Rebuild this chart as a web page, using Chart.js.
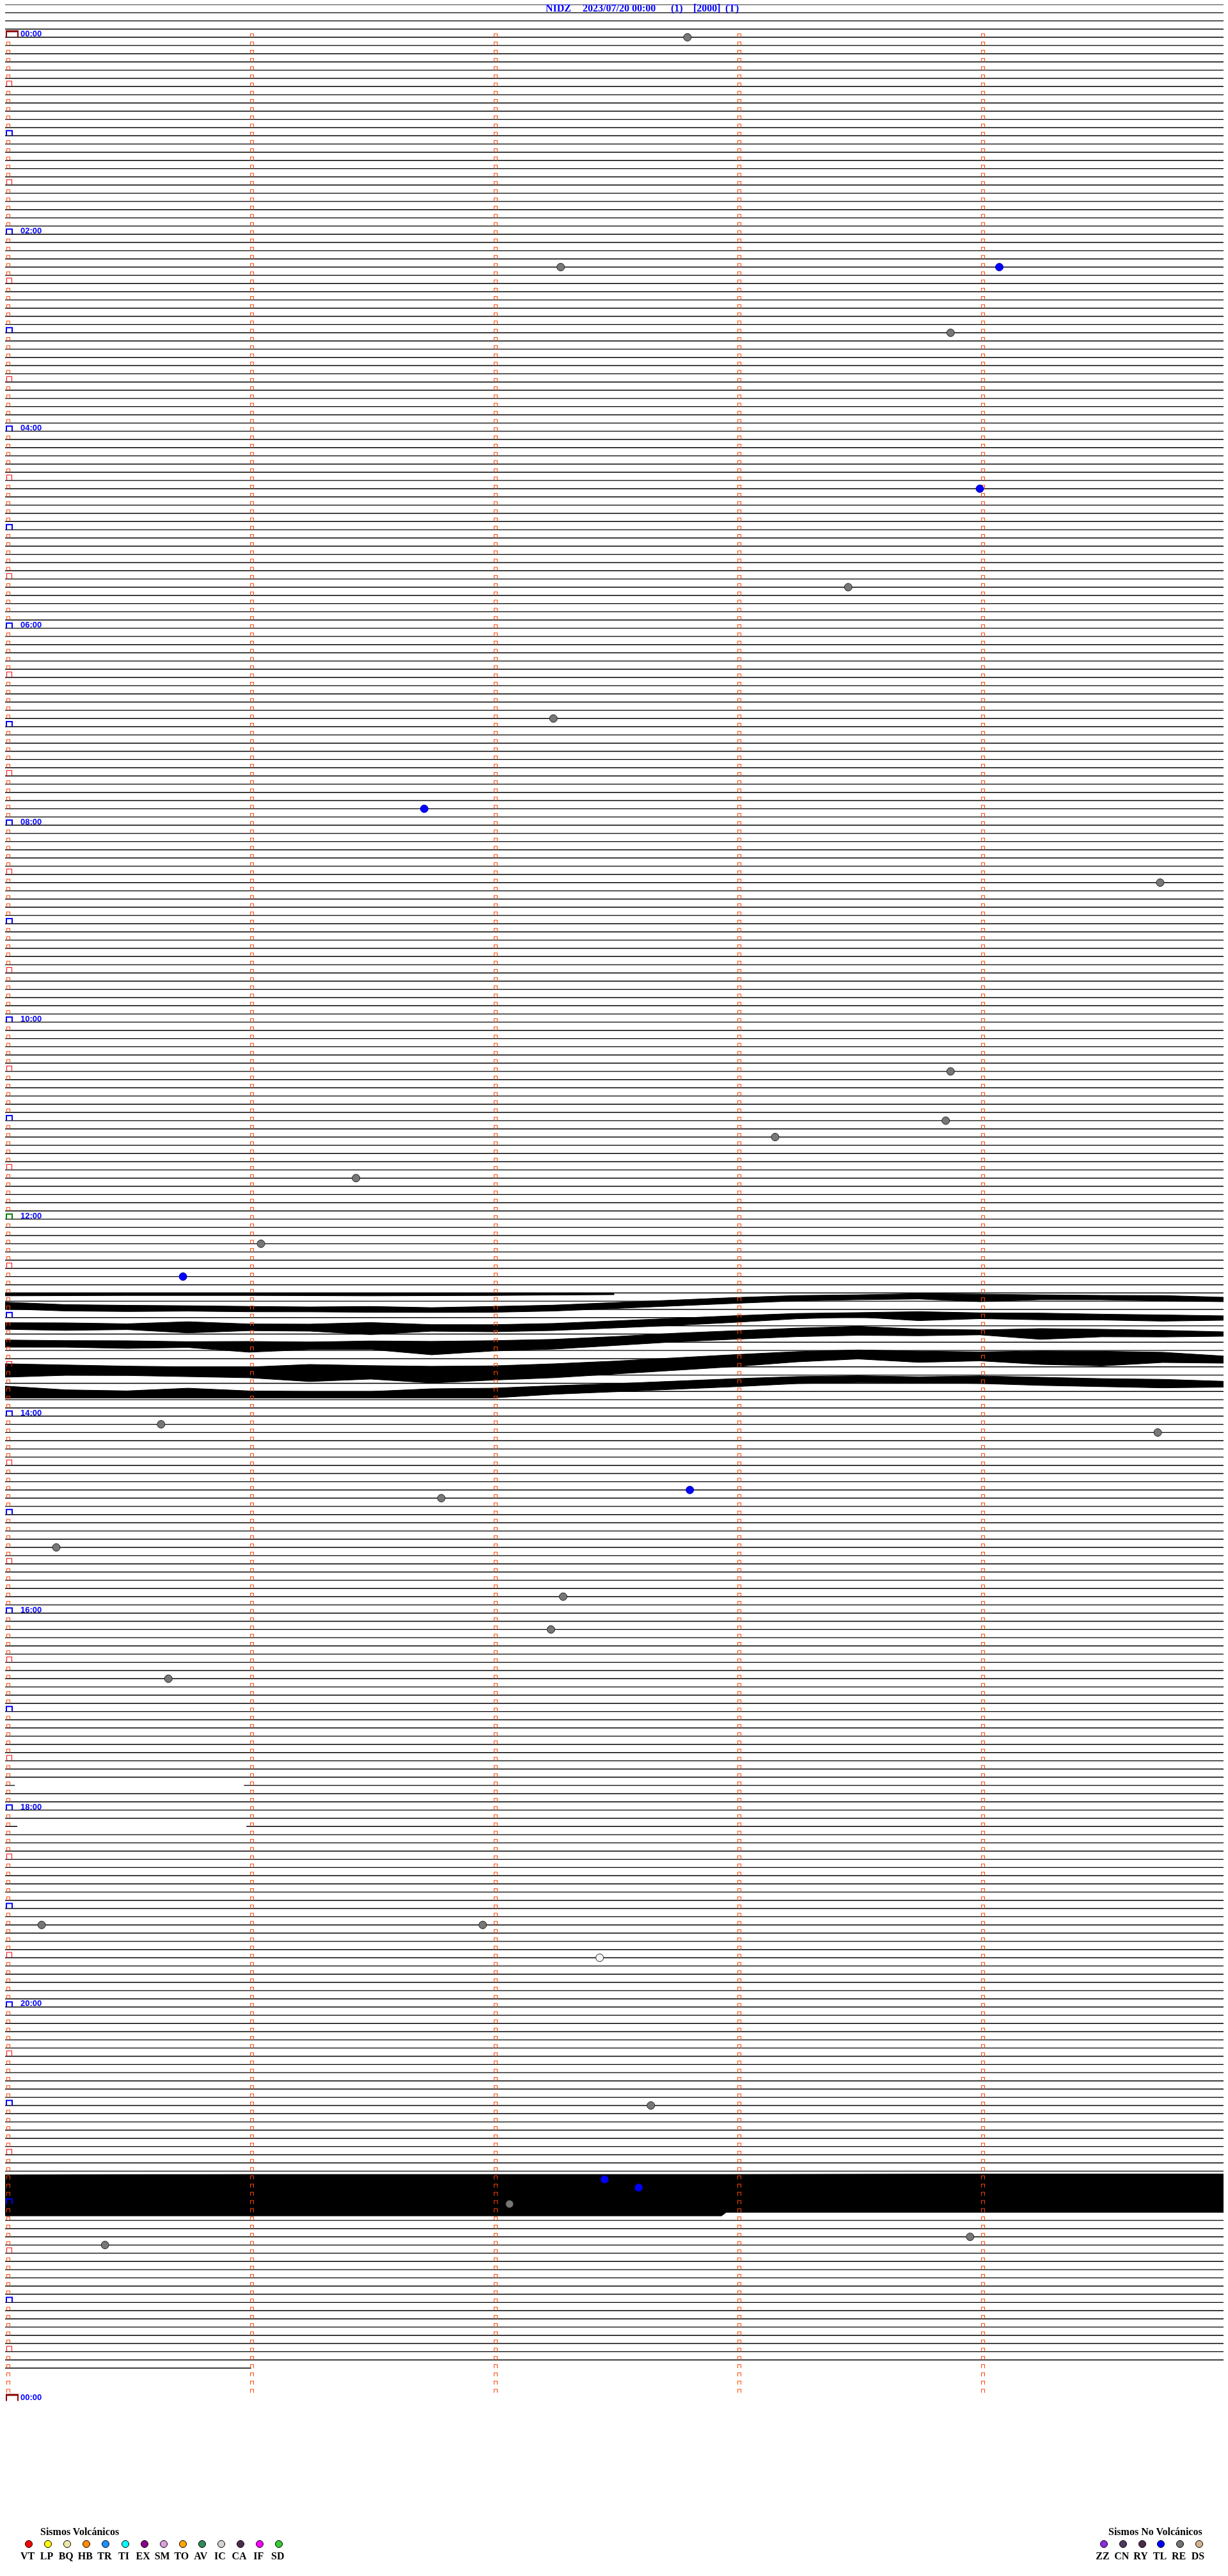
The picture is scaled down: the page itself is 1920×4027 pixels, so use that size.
<!DOCTYPE html>
<html lang="es">
<head>
<meta charset="utf-8">
<title>NIDZ 2023/07/20</title>
<script src="https://cdn.jsdelivr.net/npm/chart.js@4.4.1/dist/chart.umd.min.js"></script>
<style>
  html,body{margin:0;padding:0;background:#fff;}
  #page{position:relative;width:1920px;height:4027px;overflow:hidden;background:#fff;}
  #chart{position:absolute;left:0;top:0;}
  #title{position:absolute;left:0;top:5px;width:1920px;height:16px;font:bold 16px "Liberation Serif","Times New Roman",serif;color:#0000ff;line-height:16px;}
  #title span{position:absolute;top:0;white-space:pre;}
  .legend-title{position:absolute;font:bold 16px "Liberation Serif","Times New Roman",serif;color:#000;line-height:16px;white-space:nowrap;}
  .dot{position:absolute;width:10px;height:10px;border:1px solid #000;border-radius:50%;}
  .code{position:absolute;width:36px;text-align:center;font:bold 16px "Liberation Serif","Times New Roman",serif;line-height:16px;color:#000;}
</style>
</head>
<body>
<div id="page">
  <canvas id="chart" width="1920" height="4027"></canvas>
  <div id="title"><span style="left:853px">NIDZ</span><span style="left:911px">2023/07/20 00:00</span><span style="left:1049px">(1)</span><span style="left:1084px">[2000]</span><span style="left:1134px">(T)</span></div>
  <div id="legend"></div>
</div>
<script>
// ---------------- DATA ----------------
// each trace line is 5 minutes long; x in minutes (0..5), y in line index
const lineCount = 289;                 // trace lines 0..288
const lastLineEnd = 1.01;              // minutes drawn on the final (incomplete) line
// [line, gapStart, gapEnd] in minutes
const lineBreaks = [[217, 0.04, 0.98], [222, 0.05, 0.99]];

// hour labels (every two hours)
const hourValues = [0,2,4,6,8,10,12,14,16,18,20,22,24];
const hourLabels = ['00:00','02:00','04:00','06:00','08:00','10:00','12:00','14:00','16:00','18:00','20:00','22:00','00:00'];

// marker rows: one per 5-minute row (288) plus the closing 00:00
const markerRowCount = 289;
const markerLineOffset = 4;            // marker row j sits on trace line j+4
const minuteTicks = [0,1,2,3,4];

// detected events
const eventMinute = [2.80,2.28,4.08,3.88,4.00,3.46,2.25,1.72,4.74,3.88,3.86,3.16,1.44,1.05,0.73,0.64,4.73,2.81,1.79,0.21,2.29,2.24,0.67,0.15,1.96,2.44,2.65,2.46,2.60,2.07,3.96,0.41];
const eventLine   = [4,32,32,40,59,71,87,98,107,130,136,138,143,151,155,173,174,181,182,188,194,198,204,234,234,238,256,265,266,268,272,273];
const eventType   = ['RE','RE','TL','RE','TL','RE','RE','TL','RE','RE','RE','RE','RE','RE','TL','RE','RE','TL','RE','RE','RE','RE','RE','RE','RE','IC','RE','TL','TL','RE','RE','RE'];

// high-amplitude hour (13:00-14:00): upper / lower envelopes of the noisy traces (line units)
const bandX = [0,0.25,0.5,0.75,1,1.25,1.5,1.75,2,2.25,2.5,2.75,3,3.25,3.5,3.75,4,4.25,4.5,4.75,5];
const band1Top = [158.12,158.42,158.50,158.55,158.63,158.70,158.64,158.78,158.64,158.48,158.17,157.86,157.55,157.31,157.22,157.08,157.14,157.22,157.29,157.31,157.52];
const band1Bot = [158.94,159.19,159.26,159.21,159.29,159.30,159.35,159.37,159.35,159.20,158.89,158.57,158.26,157.96,157.82,157.73,158.06,157.82,157.83,157.96,158.06];
const band2Top = [160.62,160.64,160.75,160.50,160.77,160.79,160.60,160.85,160.86,160.71,160.40,160.08,159.76,159.49,159.39,159.27,159.42,159.45,159.58,159.67,159.78];
const band2Bot = [161.43,161.56,161.46,161.86,161.59,161.65,162.07,161.66,161.73,161.57,161.26,160.95,160.57,160.14,159.93,160.37,160.13,160.26,160.29,160.43,160.32];
const band3Top = [162.73,162.80,162.82,162.93,162.90,162.98,162.84,162.89,162.81,162.65,162.31,161.90,161.59,161.28,161.06,161.40,161.50,161.34,161.42,161.55,161.73];
const band3Bot = [163.60,163.61,163.75,163.64,164.21,163.90,163.88,164.53,164.07,163.84,163.40,162.95,162.63,162.32,162.16,162.21,162.10,162.65,162.34,162.36,162.27];
const band4Top = [165.62,165.77,165.91,166.00,166.02,165.71,165.85,165.93,165.88,165.63,165.30,164.90,164.50,164.14,163.94,164.08,164.18,164.06,164.10,164.22,164.68];
const band4Bot = [167.26,167.03,167.05,167.19,167.33,167.79,167.49,167.96,167.62,167.33,166.88,166.42,165.96,165.39,165.04,165.45,165.27,165.70,165.89,165.47,165.55];
const band5Top = [168.34,168.80,168.93,168.60,168.93,169.00,169.00,168.67,168.60,168.30,168.05,167.74,167.43,167.18,167.09,167.21,167.11,167.27,167.43,167.52,167.76];
const band5Bot = [169.79,169.79,169.79,169.79,169.79,169.79,169.79,169.79,169.79,169.34,169.04,168.73,168.41,168.04,167.90,167.93,168.03,168.26,168.41,168.56,168.47];
// spiky top trace of that hour
const fringeX   = [0,0.5,1,1.5,2,2.5];
const fringeTop = [157.00,157.00,157.00,157.00,157.00,157.00];
const fringeBot = [157.35,157.30,157.30,157.35,157.30,157.20];

// saturated block 21:00-22:00
const blockX   = [0,1,2,2.94,2.96,4,5];
const blockTop = [264.45,264.40,264.40,264.40,264.40,264.35,264.35];
const blockBot = [269.45,269.45,269.45,269.45,269.00,269.00,269.00];

// legend
const volcanicCodes  = ['VT','LP','BQ','HB','TR','TI','EX','SM','TO','AV','IC','CA','IF','SD'];
const volcanicColors = ['#ff0000','#ffff00','#eee8aa','#ff8c00','#1e90ff','#00ffff','#8b008b','#dda0dd','#ffa500','#2e8b57','#d3d3d3','#4b2d4b','#ff00ff','#32cd32'];
const nonVolcanicCodes  = ['ZZ','CN','RY','TL','RE','DS'];
const nonVolcanicColors = ['#8a2be2','#4b3b5b','#4b2d4b','#0000ff','#6f776f','#d2b48c'];

// ---------------- BUILD ----------------
const colorOf = {};
volcanicCodes.forEach((c,i)=>colorOf[c]=volcanicColors[i]);
nonVolcanicCodes.forEach((c,i)=>colorOf[c]=nonVolcanicColors[i]);

const traceData = [];
for (let k = 0; k < lineCount; k++) {
  let segs = [[0, k === lineCount - 1 ? lastLineEnd : 5]];
  lineBreaks.filter(b => b[0] === k).forEach(b => {
    segs = segs.flatMap(([a, e]) => (b[1] >= e || b[2] <= a) ? [[a, e]] : [[a, b[1]], [b[2], e]].filter(s => s[1] > s[0]));
  });
  segs.forEach(([a, e]) => { traceData.push({x:a,y:k},{x:e,y:k},{x:e,y:null}); });
}

function makeMark(w, h, color, side, top, offX) {
  const half = offX + w + 2;
  const c = document.createElement('canvas');
  c.width = half * 2; c.height = h * 2 + 2;
  const g = c.getContext('2d');
  g.fillStyle = color;
  const x0 = half + offX, y0 = c.height / 2 - h;
  g.fillRect(x0, y0, w, top);
  g.fillRect(x0, y0, side, h);
  g.fillRect(x0 + w - side, y0, side, h);
  return c;
}
const markRow   = makeMark(6, 6, '#ff4500', 1, 1, 2);
const markHour  = makeMark(11, 9, '#0000ff', 2, 2, 1);
const markHalf  = makeMark(9, 9, '#ff0000', 1, 1, 2);
const markDay   = makeMark(20, 11, '#8b0000', 2, 3, 1);
const markNoon  = makeMark(11, 9, '#008000', 2, 2, 1);

const rowMarks = [], hourMarks = [], halfMarks = [], dayMarks = [], noonMarks = [];
for (let j = 0; j < markerRowCount; j++) {
  const y = j + markerLineOffset;
  minuteTicks.forEach(m => {
    if (m === 0) {
      if (j % 288 === 0) dayMarks.push({x:m,y});
      else if (j === 144) noonMarks.push({x:m,y});
      else if (j % 12 === 0) hourMarks.push({x:m,y});
      else if (j % 6 === 0) halfMarks.push({x:m,y});
      else rowMarks.push({x:m,y});
    } else if (j < 288) {
      rowMarks.push({x:m,y});
    }
  });
}
const hourRows = hourValues.map(h => h * 12 + markerLineOffset - 0.36);

const events = eventMinute.map((m,i)=>({x:m, y:eventLine[i]}));
const eventFill = eventType.map(t => t === 'RE' ? '#777777' : (t === 'IC' ? '#f4f4f4' : colorOf[t]));
const eventBorder = eventType.map(t => t === 'TL' ? '#0000aa' : '#222222');

function env(xs, ys) { return xs.map((x,i)=>({x, y:ys[i]})); }
const bandSets = [];
[[bandX,band1Top,band1Bot],[bandX,band2Top,band2Bot],[bandX,band3Top,band3Bot],[bandX,band4Top,band4Bot],
 [bandX,band5Top,band5Bot],[fringeX,fringeTop,fringeBot],[blockX,blockTop,blockBot]].forEach(([xs,t,b])=>{
  bandSets.push({type:'line', data:env(xs,t), fill:'+1', backgroundColor:'#000', borderColor:'#000', borderWidth:1, pointRadius:0});
  bandSets.push({type:'line', data:env(xs,b), fill:false, borderColor:'#000', borderWidth:1, pointRadius:0});
});

const markerSet = (data, style) => ({type:'scatter', data, pointStyle:style, pointRadius:5, showLine:false});

new Chart(document.getElementById('chart'), {
  data: {
    datasets: [
      {type:'scatter', data:events, pointStyle:'circle', pointRadius:6, borderWidth:1,
       backgroundColor:eventFill, borderColor:eventBorder, showLine:false},
      markerSet(dayMarks, markDay),
      markerSet(noonMarks, markNoon),
      markerSet(hourMarks, markHour),
      markerSet(halfMarks, markHalf),
      markerSet(rowMarks, markRow),
      ...bandSets,
      {type:'line', data:traceData, borderColor:'#000', borderWidth:1.4, pointRadius:0, spanGaps:false, fill:false}
    ]
  },
  options: {
    responsive:false, animation:false, devicePixelRatio:1, events:[],
    layout:{padding:{left:8, right:0, top:6, bottom:171}},
    plugins:{legend:{display:false}, tooltip:{enabled:false}},
    scales:{
      x:{type:'linear', min:0, max:5, display:false},
      y:{type:'linear', min:0, max:300, reverse:true, position:'left', z:1,
         grid:{display:false, drawTicks:false}, border:{display:false},
         afterFit:s=>{s.width=0; s.paddingTop=0; s.paddingBottom=0; s.paddingLeft=0; s.paddingRight=0;},
         afterBuildTicks:s=>{s.ticks = hourRows.map(v=>({value:v}));},
         ticks:{mirror:true, padding:24, color:'#0000ff', autoSkip:false,
                font:{family:'"Liberation Sans", Arial, sans-serif', weight:'bold', size:13},
                callback:(v,i)=>hourLabels[i],
                showLabelBackdrop:true, backdropColor:'#ffffff', backdropPadding:{top:0,bottom:0,left:1,right:1}}
      }
    }
  }
});

// legend (HTML)
const lg = document.getElementById('legend');
function addGroup(title, titleX, codes, colors, x0, step) {
  const t = document.createElement('div');
  t.className = 'legend-title'; t.style.left = titleX + 'px'; t.style.top = '3950px';
  t.textContent = title; lg.appendChild(t);
  codes.forEach((c,i)=>{
    const cx = x0 + step * i;
    const d = document.createElement('div');
    d.className = 'dot'; d.style.left = (cx - 6) + 'px'; d.style.top = '3971px'; d.style.background = colors[i];
    lg.appendChild(d);
    const l = document.createElement('div');
    l.className = 'code'; l.style.left = (cx - 20) + 'px'; l.style.top = '3988px';
    l.textContent = c; lg.appendChild(l);
  });
}
addGroup('Sismos Volcánicos', 63, volcanicCodes, volcanicColors, 45, 30.1);
addGroup('Sismos No Volcánicos', 1733, nonVolcanicCodes, nonVolcanicColors, 1726, 29.8);
</script>
</body>
</html>
